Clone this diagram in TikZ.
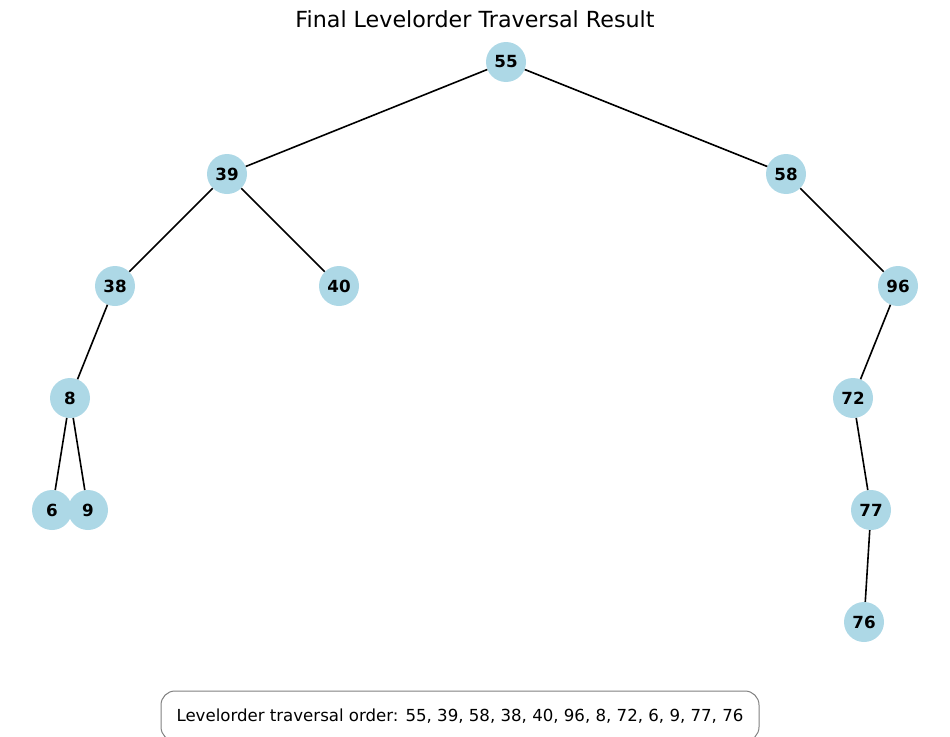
\documentclass[tikz,border=0pt]{standalone}
\usepackage{fontspec}
\setmainfont{DejaVu Sans}
\definecolor{nodeblue}{RGB}{173,216,230}

\begin{document}
\begin{tikzpicture}[%
        x = 1pt, y = -1pt,
        treenode/.style = {circle, fill = nodeblue, minimum size = 40pt,
            inner sep = 0pt, font = \fontsize{16.7}{20}\selectfont\bfseries},
        treeedge/.style = {line width = 1.6pt, black}
    ]

        \useasboundingbox (0, 0) rectangle (950, 736);

        % Title over the tree.
        \node (title) at (475, 19) {\fontsize{22.2}{26}\selectfont Final Levelorder Traversal Result};

        % Positions for all of the tree nodes.
        \node[treenode] (n55) at (506, 62) {55};
        \node[treenode] (n39) at (227, 174) {39};
        \node[treenode] (n58) at (786, 174) {58};
        \node[treenode] (n38) at (115, 286) {38};
        \node[treenode] (n40) at (339, 286) {40};
        \node[treenode] (n96) at (898, 286) {96};
        \node[treenode] (n8) at (70, 398) {8};
        \node[treenode] (n72) at (853, 398) {72};
        \node[treenode] (n6) at (52, 510) {6};
        \node[treenode] (n9) at (88, 510) {9};
        \node[treenode] (n77) at (871, 510) {77};
        \node[treenode] (n76) at (864, 622) {76};

        % Draw the edges between parents and children.
        \draw[treeedge] (n55) to (n39);
        \draw[treeedge] (n55) to (n58);
        \draw[treeedge] (n39) to (n38);
        \draw[treeedge] (n39) to (n40);
        \draw[treeedge] (n58) to (n96);
        \draw[treeedge] (n38) to (n8);
        \draw[treeedge] (n96) to (n72);
        \draw[treeedge] (n8) to (n6);
        \draw[treeedge] (n8) to (n9);
        \draw[treeedge] (n72) to (n77);
        \draw[treeedge] (n77) to (n76);

        % The traversal order in a rounded box.
        \node[%
            draw = gray,
            line width = 1pt,
            rounded corners = 14pt,
            minimum width = 598pt,
            minimum height = 50pt,
            font = \fontsize{16.6}{20}\selectfont
        ] (order) at (460, 716) {Levelorder traversal order: 55, 39, 58, 38, 40, 96, 8, 72, 6, 9, 77, 76};
    \end{tikzpicture}
\end{document}
